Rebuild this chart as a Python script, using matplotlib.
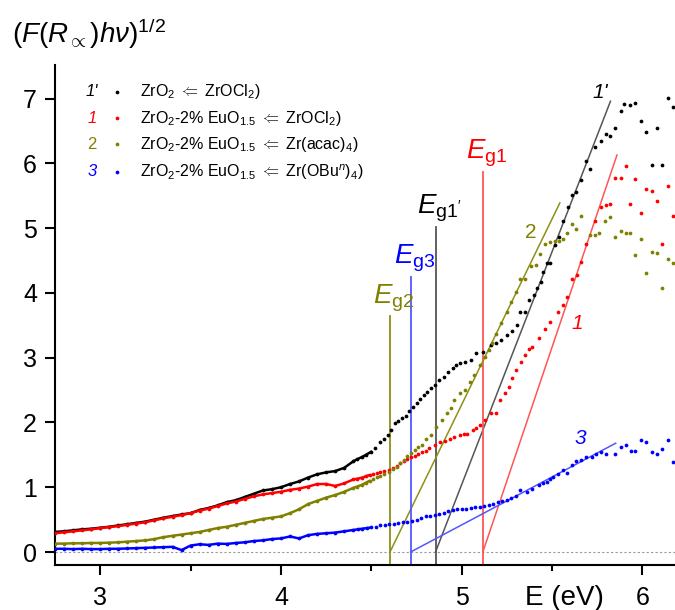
import matplotlib
matplotlib.use("Agg")
import matplotlib.pyplot as plt

plt.rcParams['font.family'] = ['Liberation Sans', 'DejaVu Sans']
plt.rcParams['mathtext.fontset'] = 'custom'
plt.rcParams['mathtext.rm'] = 'Liberation Sans'
plt.rcParams['mathtext.it'] = 'Liberation Sans:italic'
plt.rcParams['mathtext.bf'] = 'Liberation Sans:bold'

# ---- photon energy grid of the densely sampled low-energy part (eV) ----
e_fine = [2.75, 2.80, 2.85, 2.90, 2.95, 3.00, 3.05, 3.10, 3.15, 3.20, 3.25, 3.30,
          3.35, 3.40, 3.45, 3.50, 3.55, 3.60, 3.65, 3.70, 3.75, 3.80, 3.85, 3.90,
          3.95, 4.00, 4.05, 4.10, 4.15, 4.20, 4.25, 4.30, 4.35, 4.40]

# ---- 1': ZrO2 <= ZrOCl2 ----
s1p_fine = [0.31, 0.32, 0.335, 0.35, 0.36, 0.375, 0.39, 0.41, 0.43, 0.45, 0.47, 0.50,
            0.53, 0.555, 0.58, 0.60, 0.65, 0.68, 0.72, 0.77, 0.80, 0.85, 0.90, 0.95,
            0.97, 1.00, 1.05, 1.09, 1.15, 1.20, 1.23, 1.25, 1.30, 1.40]
s1p_e = [4.42, 4.45, 4.47, 4.50, 4.52, 4.55, 4.57, 4.59, 4.61, 4.63, 4.65, 4.67,
         4.69, 4.71, 4.73, 4.75, 4.77, 4.79, 4.81, 4.83, 4.85, 4.875, 4.90, 4.925,
         4.95, 4.97, 4.99, 5.02, 5.05, 5.08, 5.12, 5.16, 5.19, 5.22, 5.25, 5.28,
         5.305, 5.32, 5.35, 5.37, 5.40, 5.415, 5.44, 5.45, 5.47, 5.49, 5.515, 5.54,
         5.56, 5.59, 5.61, 5.63, 5.66, 5.69, 5.71, 5.74, 5.77, 5.80, 5.82, 5.85,
         5.88, 5.90, 5.93, 5.96, 5.99, 6.02, 6.05, 6.08, 6.11, 6.14, 6.17]
s1p_v = [1.43, 1.47, 1.50, 1.55, 1.60, 1.70, 1.74, 1.80, 1.89, 1.99, 2.03, 2.07,
         2.10, 2.18, 2.24, 2.30, 2.36, 2.42, 2.47, 2.53, 2.58, 2.65, 2.71, 2.78,
         2.84, 2.88, 2.92, 2.94, 2.96, 3.07, 3.09, 3.19, 3.22, 3.28, 3.35, 3.42,
         3.50, 3.71, 3.71, 3.89, 3.97, 4.07, 4.17, 4.33, 4.46, 4.46, 4.74, 4.87,
         5.11, 5.33, 5.51, 5.56, 5.74, 6.04, 5.92, 6.25, 6.34, 6.46, 6.43, 6.55,
         6.81, 6.91, 6.90, 6.93, 6.66, 6.48, 5.97, 6.54, 5.97, 7.01, 6.87]

# ---- 1: ZrO2-2% EuO1.5 <= ZrOCl2 ----
s1_fine = [0.29, 0.305, 0.32, 0.335, 0.35, 0.37, 0.385, 0.40, 0.42, 0.44, 0.46, 0.49,
           0.52, 0.545, 0.57, 0.60, 0.64, 0.67, 0.71, 0.75, 0.78, 0.82, 0.86, 0.89,
           0.91, 0.93, 0.96, 0.98, 1.01, 1.05, 1.05, 1.02, 1.06, 1.12]
s1_e = [4.42, 4.45, 4.47, 4.49, 4.51, 4.53, 4.55, 4.57, 4.60, 4.62, 4.64, 4.66,
        4.68, 4.70, 4.72, 4.74, 4.76, 4.78, 4.80, 4.82, 4.85, 4.88, 4.91, 4.935,
        4.96, 4.99, 5.01, 5.03, 5.06, 5.08, 5.10, 5.13, 5.16, 5.19, 5.21, 5.24,
        5.26, 5.28, 5.30, 5.33, 5.35, 5.37, 5.39, 5.43, 5.46, 5.49, 5.53, 5.56,
        5.585, 5.61, 5.64, 5.66, 5.69, 5.74, 5.77, 5.80, 5.82, 5.85, 5.88, 5.91,
        5.93, 5.96, 5.99, 6.02, 6.05, 6.08, 6.11, 6.14, 6.17]
s1_v = [1.13, 1.15, 1.17, 1.19, 1.21, 1.22, 1.24, 1.25, 1.27, 1.30, 1.33, 1.37,
        1.40, 1.44, 1.46, 1.48, 1.51, 1.54, 1.56, 1.60, 1.65, 1.70, 1.72, 1.75,
        1.78, 1.81, 1.82, 1.83, 1.88, 1.92, 1.96, 2.04, 2.14, 2.14, 2.35, 2.45,
        2.55, 2.68, 2.81, 2.94, 3.04, 3.14, 3.17, 3.30, 3.45, 3.55, 3.70, 3.82,
        3.94, 4.22, 4.27, 4.48, 4.75, 5.11, 5.33, 5.36, 5.37, 5.78, 5.78, 5.96,
        5.37, 5.76, 5.23, 5.60, 5.58, 5.42, 4.75, 5.65, 5.19]

# ---- 2: ZrO2-2% EuO1.5 <= Zr(acac)4 ----
s2_fine = [0.13, 0.13, 0.135, 0.135, 0.14, 0.14, 0.145, 0.15, 0.16, 0.17, 0.18, 0.20,
           0.23, 0.25, 0.27, 0.29, 0.31, 0.34, 0.37, 0.39, 0.42, 0.45, 0.48, 0.51,
           0.53, 0.55, 0.60, 0.66, 0.74, 0.79, 0.84, 0.88, 0.93, 0.99]
s2_e = [4.42, 4.45, 4.47, 4.49, 4.51, 4.53, 4.55, 4.57, 4.60, 4.62, 4.64, 4.66,
        4.68, 4.70, 4.72, 4.74, 4.76, 4.78, 4.805, 4.83, 4.86, 4.89, 4.92, 4.94,
        4.96, 4.99, 5.02, 5.045, 5.07, 5.10, 5.13, 5.15, 5.165, 5.19, 5.22, 5.25,
        5.275, 5.30, 5.32, 5.35, 5.385, 5.41, 5.435, 5.46, 5.49, 5.515, 5.54, 5.56,
        5.585, 5.61, 5.635, 5.66, 5.71, 5.735, 5.76, 5.79, 5.82, 5.85, 5.88, 5.91,
        5.93, 5.96, 5.99, 6.02, 6.05, 6.08, 6.11, 6.14, 6.17]
s2_v = [1.01, 1.04, 1.07, 1.10, 1.13, 1.16, 1.18, 1.20, 1.24, 1.28, 1.32, 1.37,
        1.42, 1.48, 1.53, 1.57, 1.62, 1.66, 1.75, 1.81, 1.93, 2.04, 2.14, 2.22,
        2.35, 2.45, 2.50, 2.63, 2.73, 2.89, 3.01, 3.12, 3.22, 3.37, 3.53, 3.71,
        3.86, 4.02, 4.21, 4.21, 4.41, 4.43, 4.60, 4.76, 4.78, 4.80, 4.80, 4.84,
        4.92, 5.06, 4.99, 5.19, 4.90, 4.89, 4.92, 5.11, 5.17, 4.87, 4.96, 4.92,
        4.92, 4.58, 4.83, 4.31, 4.63, 4.61, 4.08, 4.53, 4.47]

# ---- 3: ZrO2-2% EuO1.5 <= Zr(OBu^n)4 ----
s3_fine = [0.05, 0.05, 0.045, 0.05, 0.045, 0.045, 0.05, 0.05, 0.055, 0.06, 0.065, 0.07,
           0.075, 0.08, 0.03, 0.10, 0.12, 0.11, 0.13, 0.125, 0.14, 0.15, 0.17, 0.18,
           0.20, 0.21, 0.24, 0.21, 0.26, 0.28, 0.29, 0.30, 0.32, 0.34]
s3_e = [4.425, 4.45, 4.475, 4.50, 4.525, 4.55, 4.575, 4.60, 4.625, 4.65, 4.675, 4.70,
        4.725, 4.75, 4.775, 4.80, 4.825, 4.85, 4.875, 4.90, 4.925, 4.95, 4.975, 5.00,
        5.025, 5.05, 5.075, 5.10, 5.125, 5.15, 5.175, 5.20, 5.225, 5.25, 5.275, 5.30,
        5.32, 5.36, 5.39, 5.43, 5.45, 5.47, 5.49, 5.506, 5.535, 5.56, 5.585, 5.61,
        5.635, 5.66, 5.69, 5.72, 5.745, 5.77, 5.80, 5.85, 5.88, 5.91, 5.935, 5.96,
        5.99, 6.02, 6.05, 6.08, 6.11, 6.14, 6.17]
s3_v = [0.35, 0.36, 0.37, 0.38, 0.39, 0.41, 0.42, 0.43, 0.44, 0.45, 0.46, 0.47,
        0.48, 0.50, 0.52, 0.55, 0.56, 0.57, 0.59, 0.61, 0.63, 0.65, 0.66, 0.67,
        0.67, 0.68, 0.69, 0.70, 0.71, 0.72, 0.74, 0.77, 0.79, 0.81, 0.84, 0.87,
        0.96, 0.93, 0.98, 1.03, 1.06, 1.085, 1.12, 1.16, 1.21, 1.27, 1.22, 1.34,
        1.41, 1.42, 1.47, 1.47, 1.51, 1.55, 1.52, 1.51, 1.62, 1.65, 1.56, 1.56,
        1.73, 1.70, 1.55, 1.52, 1.585, 1.73, 1.39]

series_tags = ["1'", "1", "2", "3"]
series_colors = ["#000000", "#ff0000", "#808000", "#0000ff"]
series_fine = [s1p_fine, s1_fine, s2_fine, s3_fine]
series_e = [s1p_e, s1_e, s2_e, s3_e]
series_v = [s1p_v, s1_v, s2_v, s3_v]
tag_italic = [True, True, False, True]
legend_labels = [
    r"ZrO$_2$ $\Leftarrow$ ZrOCl$_2$)",
    r"ZrO$_2$-2% EuO$_{1.5}$ $\Leftarrow$ ZrOCl$_2$)",
    r"ZrO$_2$-2% EuO$_{1.5}$ $\Leftarrow$ Zr(acac)$_4$)",
    r"ZrO$_2$-2% EuO$_{1.5}$ $\Leftarrow$ Zr(OBu$^n$)$_4$)",
]

# Band-gap extrapolation: intercept Eg, upper end of the tangent, height of the Eg marker
gap_energy = [4.855, 5.117, 4.603, 4.717]
gap_names = [r"$E_\mathregular{g1'}$", r"$E_\mathregular{g1}$", r"$E_\mathregular{g2}$", r"$E_\mathregular{g3}$"]
tangent_end_e = [5.823, 5.859, 5.543, 5.852]
tangent_end_v = [6.96, 6.13, 5.39, 1.68]
marker_top = [5.02, 5.87, 3.64, 4.25]
gap_line_colors = ["#555555", "#ff5555", "#8f8f1a", "#5555ff"]
gap_text_colors = ["#000000", "#ff0000", "#808000", "#0000ff"]

# Curve number labels placed next to the curves
curve_label_pos = [(5.764, 7.10), (5.642, 3.53), (5.383, 4.94), (5.659, 1.76)]

fig = plt.figure(figsize=(6.75, 6.10), dpi=100)
ax = fig.add_axes([0.0815, 0.0738, 0.9185, 0.8197])
x_min, x_max = 2.75, 6.18
y_min, y_max = -0.2, 7.52
ax.set_xlim(x_min, x_max)
ax.set_ylim(y_min, y_max)

ax.axhline(0, color="#999999", lw=0.8, ls=(0, (2, 2)), zorder=1)

line_until = 4.5
for fine, e, v, c in zip(series_fine, series_e, series_v, series_colors):
    all_e = e_fine + e
    all_v = fine + v
    dense_e = [a for a in all_e if a <= line_until]
    dense_v = [b for a, b in zip(all_e, all_v) if a <= line_until]
    ax.plot(dense_e, dense_v, '-', color=c, lw=1.8, zorder=3, solid_capstyle='round')
    ax.plot(all_e, all_v, 'o', color=c, ms=2.7, mew=0, zorder=3)

for eg, e1, v1, top, c, tc, name in zip(gap_energy, tangent_end_e, tangent_end_v,
                                        marker_top, gap_line_colors, gap_text_colors,
                                        gap_names):
    ax.plot([eg, e1], [0, v1], '-', color=c, lw=1.1, zorder=2)
    ax.plot([eg, eg], [y_min, top], '-', color=c, lw=1.3, zorder=2)
    ax.text(eg + 0.02, top + 0.2, name, color=tc, fontsize=20, ha='center',
            va='baseline', zorder=4)

for tag, (px, py), c, it in zip(series_tags, curve_label_pos, series_colors, tag_italic):
    ax.text(px, py, tag, color=c, fontsize=15, ha='center', va='center',
            fontstyle='italic' if it else 'normal')

# Legend built from text rows
row_y = [0.946, 0.893, 0.841, 0.786]
for tag, c, lab, yy, it in zip(series_tags, series_colors, legend_labels, row_y, tag_italic):
    ax.text(0.06, yy, tag, color=c, fontsize=12, fontstyle='italic' if it else 'normal',
            ha='center', va='center', transform=ax.transAxes)
    ax.plot([0.10], [yy], 'o', color=c, ms=2.7, mew=0, transform=ax.transAxes,
            clip_on=False)
    ax.text(0.137, yy, lab, color="#000000", fontsize=11.5, ha='left', va='center',
            transform=ax.transAxes)

for side in ("top", "right"):
    ax.spines[side].set_visible(False)
for side in ("left", "bottom"):
    ax.spines[side].set_linewidth(1.5)

ax.set_xticks([3, 4, 5, 6])
ax.set_xticks([3.5, 4.5, 5.5], minor=True)
ax.set_yticks(range(0, 8))
ax.tick_params(axis='both', which='major', direction='out', length=7, width=1.5,
               labelsize=18, pad=6)
ax.tick_params(axis='x', which='minor', direction='out', length=4.5, width=1.5)
ax.tick_params(axis='x', which='major', pad=8)

ax.text(0.822, -0.08, "E (eV)", fontsize=20, ha='center', va='baseline',
        transform=ax.transAxes)
fig.text(0.018, 0.93, r"$(F(R_{\propto})h\nu)^{1/2}$", fontsize=20, ha='left',
         va='baseline')

fig.savefig("out.png", dpi=100, facecolor="white")
